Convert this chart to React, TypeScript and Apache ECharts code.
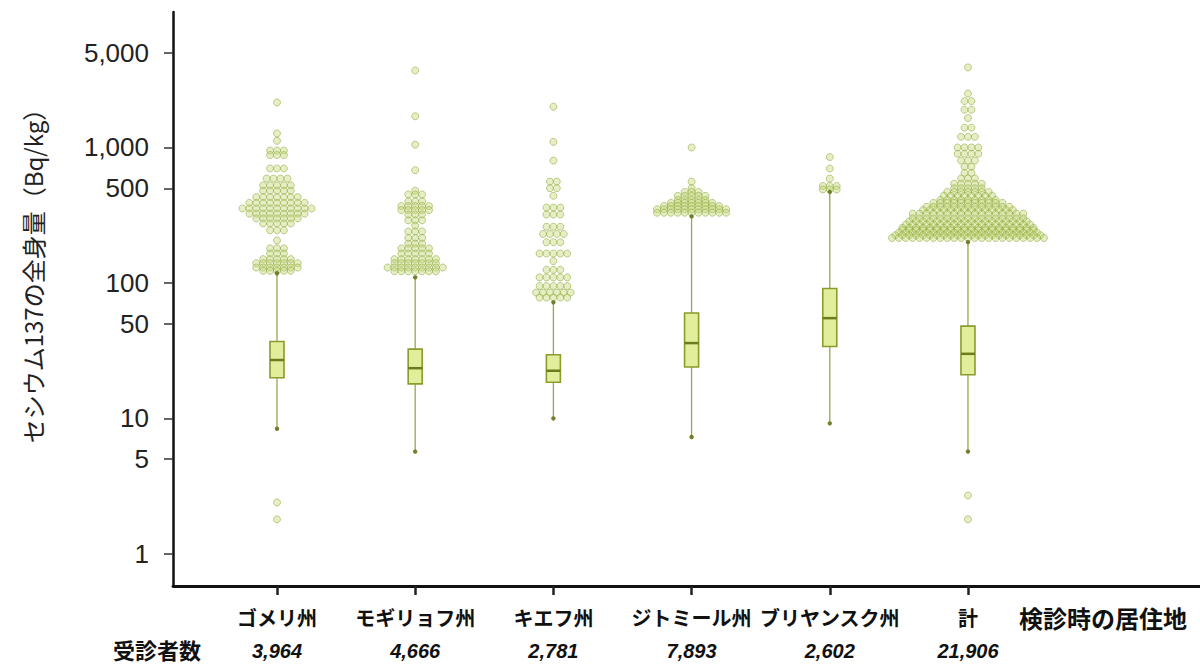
import React, { useEffect, useRef } from "react";
import * as echarts from "echarts";

// ---- data ----
const CATEGORIES = ["ゴメリ州", "モギリョフ州", "キエフ州", "ジトミール州", "ブリヤンスク州", "計"];
const COUNTS = ["3,964", "4,666", "2,781", "7,893", "2,602", "21,906"];
const X_AXIS_TITLE = "検診時の居住地";
const COUNT_TITLE = "受診者数";
const Y_TITLE = "セシウム137の全身量（Bq/kg）";
const Y_TICKS = [1, 5, 10, 50, 100, 500, 1000, 5000];
const Y_TICK_LABELS = ["1", "5", "10", "50", "100", "500", "1,000", "5,000"];

const WHISKER_MIN = [8.4, 5.7, 10, 7.3, 9.2, 5.7];
const Q1 = [20, 18, 18.5, 24, 34, 21];
const MEDIAN = [27, 23.5, 22.5, 36, 55, 30];
const Q3 = [37, 32.5, 29.5, 60, 91, 48];
const WHISKER_MAX = [118, 110, 72, 310, 470, 200];

// outliers: [value (Bq/kg), number of points at that value]
const OUT_GOMEL = [
  [2150, 1], [1270, 1], [1120, 1], [950, 3], [880, 3], [700, 3], [590, 4], [525, 5], [480, 5],
  [430, 7], [390, 9], [355, 11], [325, 9], [300, 7], [275, 5], [245, 3], [206, 1], [180, 3],
  [165, 3], [150, 5], [140, 7], [130, 7], [123, 5], [2.4, 1], [1.8, 1],
];
const OUT_MOGILEV = [
  [3700, 1], [1700, 1], [1050, 1], [680, 1], [480, 1], [450, 3], [400, 3], [370, 5], [345, 5],
  [320, 3], [290, 3], [265, 1], [240, 3], [215, 3], [195, 3], [180, 5], [165, 5], [150, 7],
  [140, 7], [130, 9], [122, 7],
];
const OUT_KIEV = [
  [2000, 1], [1100, 1], [800, 1], [560, 2], [500, 2], [440, 1], [360, 3], [320, 3], [260, 3],
  [230, 4], [200, 3], [165, 5], [145, 1], [125, 3], [110, 5], [95, 5], [85, 6], [78, 5],
];
const OUT_ZHYTOMYR = [
  [1000, 1], [560, 1], [500, 1], [470, 3], [440, 5], [410, 5], [390, 7], [370, 9], [350, 11], [330, 11],
];
const OUT_BRYANSK = [[850, 1], [700, 1], [590, 1], [520, 3], [490, 3]];
const OUT_TOTAL = [
  [3900, 1], [2500, 1], [2200, 2], [1900, 2], [1650, 1], [1400, 2], [1200, 3], [1000, 4], [900, 4],
  [800, 3], [720, 2], [650, 2], [590, 3], [540, 5], [500, 5], [470, 7], [440, 8], [410, 9],
  [390, 11], [365, 13], [345, 14], [325, 17], [300, 17], [285, 18], [270, 19], [255, 20],
  [245, 20], [235, 21], [225, 22], [215, 23], [2.7, 1], [1.8, 1],
];
const OUTLIERS = [OUT_GOMEL, OUT_MOGILEV, OUT_KIEV, OUT_ZHYTOMYR, OUT_BRYANSK, OUT_TOTAL];

// ---- layout constants ----
const X_MIN = -0.7525;
const X_MAX = 6.679;
const X_LABEL_POS = [0, 1, 2, 3, 4, 5, 5.977];
const SWARM_STEP = 0.05;

export default function App() {
  const ref = useRef<HTMLDivElement>(null);
  useEffect(() => {
    if (!ref.current) return;
    const chart = echarts.init(ref.current, null, { renderer: "svg" });

    const swarm: number[][] = [];
    OUTLIERS.forEach((rows, i) => {
      rows.forEach(([v, n]) => {
        for (let k = 0; k < n; k++) {
          swarm.push([i + (k - (n - 1) / 2) * SWARM_STEP, v]);
        }
      });
    });
    const boxes = CATEGORIES.map((_, i) => [i, WHISKER_MIN[i], Q1[i], MEDIAN[i], Q3[i], WHISKER_MAX[i]]);

    const xLabel = (val: number) => {
      const idx = X_LABEL_POS.findIndex((p) => Math.abs(p - val) < 1e-6);
      if (idx < 0) return "";
      if (idx < CATEGORIES.length) return `{n|${CATEGORIES[idx]}}\n{c|${COUNTS[idx]}}`;
      return `{h|${X_AXIS_TITLE}}\n{c| }`;
    };

    chart.setOption({
      animation: false,
      backgroundColor: "#ffffff",
      grid: { left: 173, right: 0, top: 12, bottom: 80, containLabel: false },
      xAxis: {
        type: "value",
        min: X_MIN,
        max: X_MAX,
        splitLine: { show: false },
        axisLine: { show: true, onZero: false, lineStyle: { color: "#111", width: 2.8 } },
        axisTick: { show: true, customValues: [0, 1, 2, 3, 4, 5], length: 9, lineStyle: { color: "#222", width: 2.5 } },
        axisLabel: {
          customValues: X_LABEL_POS,
          formatter: xLabel,
          margin: 14,
          rich: {
            n: { fontSize: 20, fontWeight: "bold", fontFamily: "Noto Sans CJK JP", color: "#111", lineHeight: 34 },
            h: { fontSize: 24, fontWeight: "bold", fontFamily: "Noto Sans CJK JP", color: "#111", lineHeight: 34 },
            c: { fontSize: 20, fontWeight: "bold", fontStyle: "italic", fontFamily: "Liberation Sans", color: "#111", lineHeight: 34 },
          },
        },
      },
      yAxis: {
        type: "log",
        logBase: 10,
        min: 0.58,
        max: 10000,
        splitLine: { show: false },
        minorTick: { show: false },
        axisLine: { show: true, onZero: false, lineStyle: { color: "#111", width: 2.5 } },
        axisTick: { show: true, customValues: Y_TICKS, length: 9, lineStyle: { color: "#333", width: 1.5 } },
        axisLabel: {
          customValues: Y_TICKS,
          formatter: (v: number) => {
            const idx = Y_TICKS.findIndex((t) => Math.abs(t - v) / t < 1e-6);
            return idx >= 0 ? Y_TICK_LABELS[idx] : "";
          },
          fontSize: 26,
          fontFamily: "Liberation Sans",
          color: "#222",
          margin: 24,
        },
      },
      graphic: [
        {
          type: "text",
          x: 32,
          y: 270,
          rotation: Math.PI / 2,
          style: {
            text: Y_TITLE,
            font: "24px 'Noto Sans CJK JP'",
            fill: "#222",
            align: "center",
            verticalAlign: "middle",
            textAlign: "center",
            textVerticalAlign: "middle",
          },
        },
        {
          type: "text",
          x: 157,
          y: 649,
          style: {
            text: COUNT_TITLE,
            font: "bold 22px 'Noto Sans CJK JP'",
            fill: "#111",
            align: "center",
            verticalAlign: "middle",
            textAlign: "center",
            textVerticalAlign: "middle",
          },
        },
      ],
      series: [
        {
          type: "scatter",
          data: swarm,
          symbol: "circle",
          symbolSize: 7,
          z: 2,
          itemStyle: {
            color: "rgba(196,216,120,0.55)",
            borderColor: "rgba(140,165,55,0.85)",
            borderWidth: 0.8,
          },
        },
        {
          type: "custom",
          z: 3,
          data: boxes,
          encode: { x: 0, y: [1, 2, 3, 4, 5] },
          renderItem: (params: any, api: any) => {
            const x = api.value(0);
            const pMin = api.coord([x, api.value(1)]);
            const pQ1 = api.coord([x, api.value(2)]);
            const pMed = api.coord([x, api.value(3)]);
            const pQ3 = api.coord([x, api.value(4)]);
            const pMax = api.coord([x, api.value(5)]);
            const hw = 7;
            return {
              type: "group",
              children: [
                { type: "line", shape: { x1: pMin[0], y1: pMin[1], x2: pQ1[0], y2: pQ1[1] }, style: { stroke: "#98a650", lineWidth: 1.3 } },
                { type: "line", shape: { x1: pQ3[0], y1: pQ3[1], x2: pMax[0], y2: pMax[1] }, style: { stroke: "#98a650", lineWidth: 1.3 } },
                { type: "circle", shape: { cx: pMin[0], cy: pMin[1], r: 2.2 }, style: { fill: "#6f7f2a" } },
                { type: "circle", shape: { cx: pMax[0], cy: pMax[1], r: 2.2 }, style: { fill: "#6f7f2a" } },
                {
                  type: "rect",
                  shape: { x: pQ3[0] - hw, y: pQ3[1], width: hw * 2, height: pQ1[1] - pQ3[1] },
                  style: { fill: "#e3ee9c", stroke: "#8b9b2c", lineWidth: 1.6 },
                },
                { type: "line", shape: { x1: pMed[0] - hw, y1: pMed[1], x2: pMed[0] + hw, y2: pMed[1] }, style: { stroke: "#6b7c1c", lineWidth: 2.5 } },
              ],
            };
          },
        },
      ],
    });
    return () => chart.dispose();
  }, []);
  return <div ref={ref} style={{ position: "absolute", left: 0, top: 0, width: 1200, height: 666 }} />;
}
